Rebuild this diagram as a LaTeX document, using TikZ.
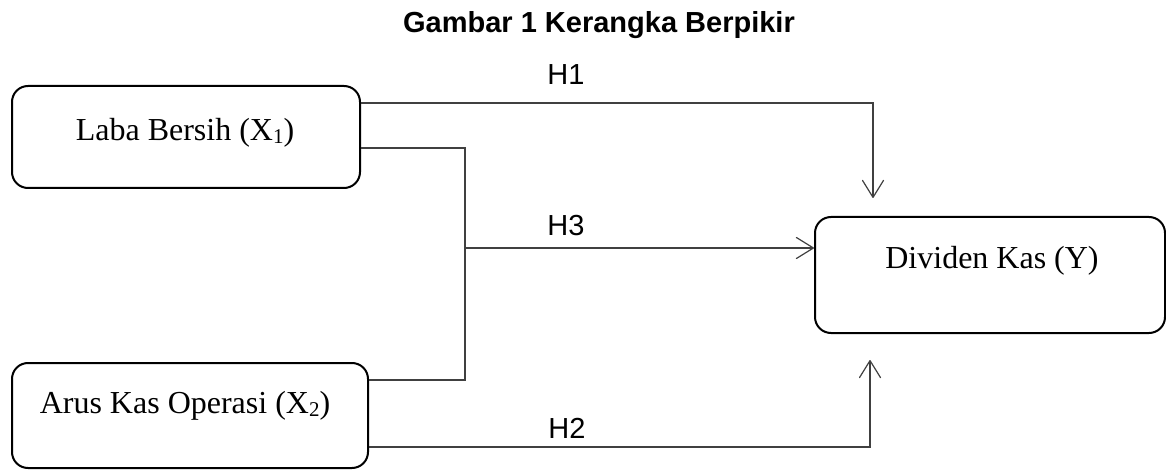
\documentclass[tikz,border=0pt]{standalone}
\usepackage{fontspec}
\setmainfont{Liberation Serif}
\newfontfamily\arialfont{Liberation Sans}
\usetikzlibrary{arrows.meta}
\newcommand\mysubs[1]{\raisebox{-3pt}{\fontsize{21}{21}\selectfont #1}}
\begin{document}
\begin{tikzpicture}[x=1pt,y=-1pt,
  box/.style={draw=black, line width=2pt, rounded corners=16pt, inner sep=0pt},
  boxtext/.style={anchor=base, inner sep=0pt, font=\fontsize{32}{38}\selectfont},
  hlabel/.style={anchor=base, inner sep=0pt, font=\arialfont\fontsize{29}{34}\selectfont},
  conn/.style={draw=black!75, line width=1.4pt, line join=miter},
  arr/.style={conn, -{Straight Barb[length=17pt,width=21pt,line width=1.2pt,round]}}
]
\useasboundingbox (0,0) rectangle (1166,470);
% title
\node[anchor=base, inner sep=0pt, font=\arialfont\bfseries\fontsize{29}{34}\selectfont] (title) at (599,33) {Gambar 1 Kerangka Berpikir};
% boxes
\node[box, minimum width=348pt, minimum height=102pt] (x1) at (186,137) {};
\node[box, minimum width=356pt, minimum height=105pt] (x2) at (190,415.5) {};
\node[box, minimum width=350pt, minimum height=116pt] (y) at (990,275) {};
% box texts
\node[boxtext] (x1t) at (185,141) {Laba Bersih (X\mysubs{1})};
\node[boxtext] (x2t) at (185,413) {Arus Kas Operasi (X\mysubs{2})};
\node[boxtext] (yt) at (992,268) {Dividen Kas (Y)};
% coordinates
\coordinate (h1c) at (873,103);
\coordinate (h1e) at (873,198);
\coordinate (ja) at (465,148);
\coordinate (jb) at (465,380);
\coordinate (j) at (465,248);
\coordinate (h2c) at (870,447);
\coordinate (h2e) at (870,360);
% connectors
\draw[arr] (x1.east |- h1c) -- (h1c) -- (h1e);
\draw[conn] (x1.east |- ja) -- (ja) -- (jb) -- (x2.east |- jb);
\draw[arr] (j) -- (y.west |- j);
\draw[arr] (x2.east |- h2c) -- (h2c) -- (h2e);
% labels
\node[hlabel] (h1) at (566,85) {H1};
\node[hlabel] (h3) at (566,236) {H3};
\node[hlabel] (h2) at (567,438) {H2};
\end{tikzpicture}
\end{document}
